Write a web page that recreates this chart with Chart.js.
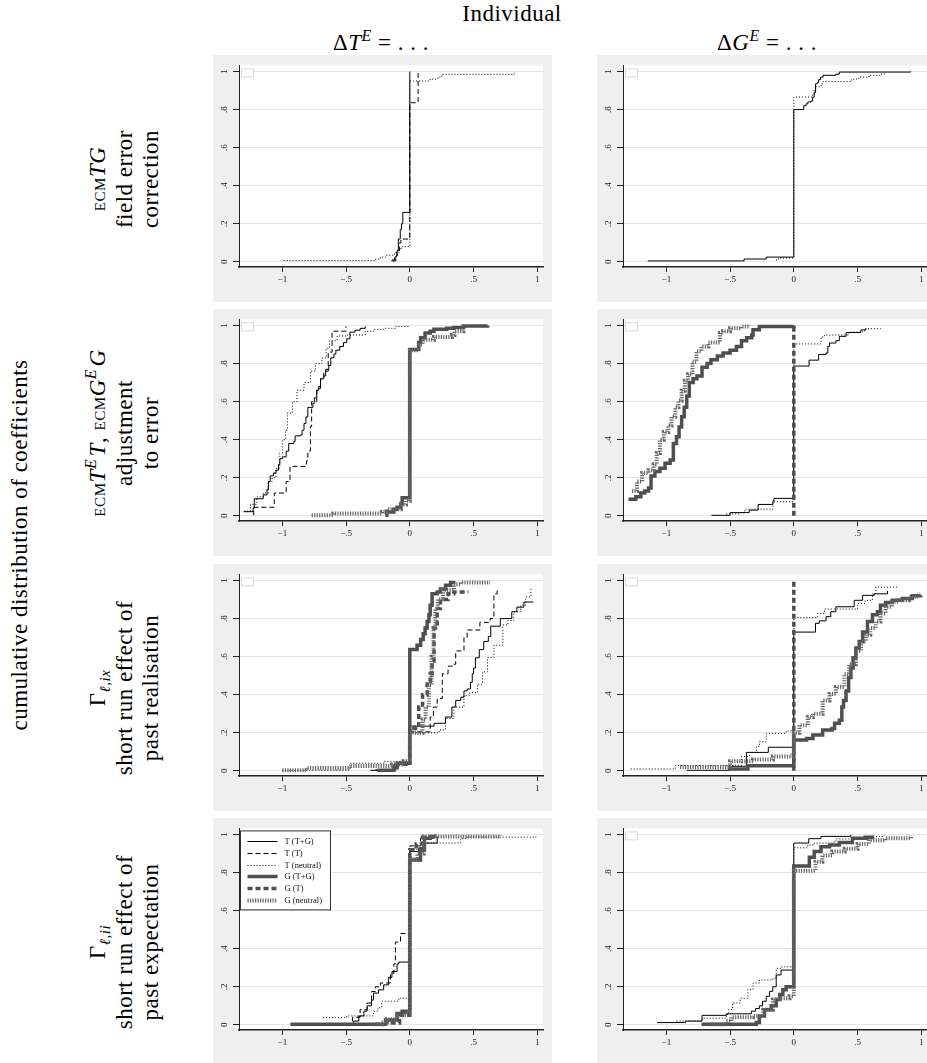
<!DOCTYPE html>
<html><head><meta charset="utf-8">
<script src="https://cdn.jsdelivr.net/npm/chart.js@4.4.1/dist/chart.umd.min.js"></script>
<style>
html,body{margin:0;padding:0;background:#fff;}
body{width:927px;height:1063px;overflow:hidden;position:relative;font-family:"Liberation Serif","Times New Roman","DejaVu Serif",serif;color:#000;}
.panel{position:absolute;width:339px;height:247px;background:#efefef;}
.panel canvas{display:block;}
.txt{position:absolute;white-space:nowrap;font-size:23px;line-height:1;letter-spacing:0.5px;transform:translate(-50%,-50%);}
.rot{position:absolute;white-space:nowrap;font-size:23px;letter-spacing:0.5px;transform:translate(-50%,-50%) rotate(-90deg);text-align:center;}
.rot div{line-height:26.5px;height:26.5px;}
.sc{font-size:15px;letter-spacing:0.6px;}
sup{font-size:16px;vertical-align:0;position:relative;top:-9px;line-height:0;}
sub{font-size:15px;vertical-align:0;position:relative;top:5px;line-height:0;}
</style></head>
<body>
<div class="txt" style="left:512px;top:13px">Individual</div>
<div class="txt" style="left:381px;top:42px">Δ<i>T</i><sup><i>E</i></sup> = . . .</div>
<div class="txt" style="left:767px;top:42px">Δ<i>G</i><sup><i>E</i></sup> = . . .</div>
<div class="rot" style="left:20px;top:545px">cumulative distribution of coefficients</div>
<div class="rot" style="left:124.5px;top:178.5px"><div><span class="sc">ECM</span><i>TG</i></div><div>field error</div><div>correction</div></div>
<div class="rot" style="left:124.5px;top:432.5px"><div><span class="sc">ECM</span><i>T</i><sup><i>E</i></sup>&#8202;<i>T</i>, <span class="sc">ECM</span><i>G</i><sup><i>E</i></sup>&#8202;<i>G</i></div><div>adjustment</div><div>to error</div></div>
<div class="rot" style="left:124.5px;top:687.5px"><div>Γ<sub><i>ℓ,ix</i></sub></div><div>short run effect of</div><div>past realisation</div></div>
<div class="rot" style="left:124.5px;top:941.5px"><div>Γ<sub><i>ℓ,ii</i></sub></div><div>short run effect of</div><div>past expectation</div></div>
<div id="panels"></div>
<script>
// ---- labels and ticks ----
const seriesLabels = ['T (T+G)','T (T)','T (neutral)','G (T+G)','G (T)','G (neutral)'];
const xTicks = [-1,-0.5,0,0.5,1];
const yTicks = [0,0.2,0.4,0.6,0.8,1];

// ---- row 1: ECM TG ----
const p11_TTG = [[-0.145,0.005],[-0.11,0.03],[-0.1,0.06],[-0.09,0.12],[-0.075,0.17],[-0.065,0.2],[-0.055,0.26],[0,1]];
const p11_TT  = [[-0.14,0.01],[-0.12,0.03],[-0.1,0.06],[-0.08,0.1],[-0.07,0.12],[0,0.836],[0.065,1]];
const p11_TN  = [[-0.99,0.007],[-0.28,0.014],[-0.23,0.025],[-0.18,0.035],[-0.12,0.05],[-0.08,0.07],[-0.06,0.08],[0,0.95],[0.16,0.96],[0.22,0.97],[0.25,0.985],[0.82,0.99]];
const p12_TTG = [[-1.146,0.005],[-0.39,0.015],[-0.216,0.025],[0,0.8],[0.078,0.82],[0.096,0.83],[0.11,0.84],[0.135,0.845],[0.148,0.865],[0.16,0.89],[0.17,0.935],[0.185,0.943],[0.195,0.957],[0.21,0.97],[0.23,0.98],[0.33,0.986],[0.357,0.997],[0.917,1]];
const p12_TN  = [[-0.14,0.01],[-0.12,0.02],[0,0.866],[0.148,0.88],[0.16,0.905],[0.175,0.92],[0.214,0.935],[0.227,0.947],[0.45,0.955],[0.47,0.96],[0.51,0.97],[0.59,0.98],[0.68,0.986],[0.71,0.995]];

// ---- row 2: adjustment to error ----
const p21_TTG = [[-1.304,0.022],[-1.23,0.04],[-1.22,0.09],[-1.15,0.11],[-1.12,0.14],[-1.11,0.18],[-1.095,0.21],[-1.07,0.225],[-1.05,0.24],[-1.03,0.27],[-1.02,0.3],[-1.0,0.31],[-0.97,0.34],[-0.95,0.38],[-0.91,0.39],[-0.9,0.42],[-0.86,0.425],[-0.845,0.45],[-0.83,0.485],[-0.815,0.52],[-0.8,0.57],[-0.76,0.59],[-0.75,0.62],[-0.73,0.66],[-0.715,0.68],[-0.7,0.72],[-0.675,0.735],[-0.66,0.77],[-0.635,0.79],[-0.62,0.83],[-0.595,0.85],[-0.58,0.87],[-0.55,0.89],[-0.52,0.91],[-0.495,0.93],[-0.47,0.965],[-0.43,0.975],[-0.39,0.985],[-0.35,0.995]];
const p21_TT  = [[-1.23,0.005],[-1.225,0.045],[-1.063,0.12],[-0.97,0.18],[-0.94,0.26],[-0.81,0.29],[-0.8,0.34],[-0.78,0.47],[-0.77,0.6],[-0.73,0.67],[-0.7,0.72],[-0.675,0.76],[-0.64,0.86],[-0.61,0.97],[-0.5,0.995]];
const p21_TN  = [[-1.3,0.025],[-1.25,0.06],[-1.2,0.1],[-1.15,0.12],[-1.11,0.18],[-1.08,0.2],[-1.05,0.25],[-1.02,0.33],[-1.0,0.4],[-0.975,0.45],[-0.96,0.54],[-0.92,0.6],[-0.885,0.66],[-0.83,0.7],[-0.78,0.76],[-0.74,0.8],[-0.69,0.83],[-0.655,0.88],[-0.63,0.92],[-0.57,0.945],[-0.5,0.95],[-0.35,0.97],[-0.28,0.98],[-0.19,0.985],[-0.11,0.995],[0,0.998]];
const p21_GTG = [[-0.19,0.003],[-0.18,0.02],[-0.125,0.035],[-0.1,0.045],[-0.07,0.065],[-0.06,0.095],[0,0.874],[0.07,0.91],[0.085,0.935],[0.12,0.96],[0.16,0.97],[0.19,0.98],[0.29,0.985],[0.345,0.99],[0.42,0.997],[0.61,1]];
const p21_GN  = [[-0.77,0.003],[-0.6,0.012],[-0.22,0.02],[-0.18,0.035],[-0.07,0.06],[-0.03,0.08],[0,0.87],[0.07,0.9],[0.1,0.925],[0.19,0.94],[0.33,0.95],[0.35,0.97],[0.42,0.995]];
const p22_TTG = [[-0.646,0.003],[-0.5,0.017],[-0.35,0.03],[-0.28,0.06],[-0.164,0.078],[-0.156,0.092],[0,0.787],[0.12,0.818],[0.195,0.848],[0.253,0.856],[0.267,0.89],[0.28,0.908],[0.33,0.92],[0.357,0.943],[0.41,0.963],[0.526,0.977],[0.565,0.986]];
const p22_TN  = [[-0.53,0.01],[-0.42,0.017],[-0.385,0.035],[-0.164,0.074],[0,0.903],[0.214,0.94],[0.24,0.95],[0.43,0.965],[0.54,0.972],[0.565,0.983],[0.68,0.985]];
const p22_GTG = [[-1.297,0.087],[-1.24,0.1],[-1.2,0.12],[-1.17,0.13],[-1.14,0.147],[-1.12,0.21],[-1.09,0.233],[-1.05,0.25],[-1.01,0.277],[-0.97,0.294],[-0.945,0.38],[-0.92,0.415],[-0.9,0.467],[-0.88,0.52],[-0.86,0.57],[-0.84,0.63],[-0.82,0.7],[-0.79,0.72],[-0.76,0.735],[-0.72,0.78],[-0.68,0.8],[-0.65,0.82],[-0.6,0.84],[-0.555,0.855],[-0.5,0.87],[-0.45,0.89],[-0.41,0.92],[-0.37,0.935],[-0.33,0.95],[-0.32,0.978],[-0.27,0.995],[0,1]];
const p22_GT  = [[0,0],[0,1]];
const p22_GN  = [[-1.27,0.13],[-1.23,0.18],[-1.19,0.225],[-1.14,0.24],[-1.1,0.27],[-1.075,0.33],[-1.05,0.4],[-1.02,0.44],[-0.985,0.475],[-0.96,0.52],[-0.93,0.57],[-0.905,0.605],[-0.88,0.657],[-0.855,0.71],[-0.83,0.744],[-0.795,0.81],[-0.763,0.865],[-0.724,0.89],[-0.67,0.91],[-0.58,0.96],[-0.555,0.97],[-0.5,0.985],[-0.41,0.995],[-0.35,1]];

// ---- row 3: past realisation ----
const p31_TTG = [[-0.31,0.003],[-0.125,0.033],[0,0.235],[0.19,0.25],[0.28,0.283],[0.33,0.335],[0.36,0.37],[0.4,0.387],[0.425,0.42],[0.45,0.43],[0.476,0.465],[0.49,0.51],[0.5,0.54],[0.515,0.594],[0.545,0.637],[0.58,0.68],[0.616,0.706],[0.635,0.76],[0.71,0.8],[0.8,0.836],[0.84,0.86],[0.895,0.887],[0.97,0.887]];
const p31_TT  = [[-0.27,0.005],[-0.1,0.03],[0,0.205],[0.16,0.283],[0.185,0.335],[0.215,0.38],[0.255,0.51],[0.3,0.55],[0.345,0.56],[0.36,0.63],[0.425,0.7],[0.45,0.74],[0.55,0.78],[0.63,0.8],[0.66,0.93],[0.685,0.96]];
const p31_TN  = [[-1.0,0.003],[-0.47,0.04],[-0.2,0.05],[0,0.2],[0.23,0.215],[0.28,0.275],[0.345,0.335],[0.425,0.395],[0.47,0.41],[0.53,0.455],[0.57,0.52],[0.61,0.595],[0.66,0.66],[0.73,0.767],[0.77,0.79],[0.815,0.836],[0.87,0.87],[0.91,0.914],[0.95,0.957]];
const p31_GTG = [[-0.255,0.003],[-0.125,0.016],[-0.1,0.04],[0,0.637],[0.057,0.66],[0.085,0.69],[0.105,0.72],[0.12,0.75],[0.136,0.785],[0.15,0.82],[0.16,0.87],[0.175,0.93],[0.215,0.94],[0.24,0.955],[0.28,0.975],[0.32,0.99],[0.345,0.997]];
const p31_GT  = [[-0.125,0.025],[-0.07,0.04],[0,0.223],[0.045,0.23],[0.07,0.335],[0.1,0.4],[0.136,0.47],[0.16,0.51],[0.175,0.577],[0.19,0.75],[0.215,0.853],[0.24,0.9],[0.3,0.93],[0.345,0.94],[0.46,0.94]];
const p31_GN  = [[-1.0,0.003],[-0.81,0.015],[-0.47,0.025],[-0.14,0.033],[-0.05,0.05],[0,0.2],[0.1,0.27],[0.124,0.335],[0.15,0.45],[0.17,0.6],[0.185,0.75],[0.2,0.85],[0.22,0.9],[0.26,0.95],[0.345,0.98],[0.4,0.99],[0.63,0.99]];
const p32_TTG = [[-0.84,0.003],[-0.5,0.024],[-0.372,0.097],[-0.2,0.124],[0,0.729],[0.17,0.775],[0.2,0.788],[0.253,0.81],[0.29,0.836],[0.33,0.862],[0.474,0.896],[0.54,0.922],[0.63,0.93],[0.735,0.945]];
const p32_TN  = [[-1.28,0.01],[-0.93,0.028],[-0.476,0.03],[-0.41,0.076],[-0.346,0.097],[-0.294,0.128],[-0.27,0.153],[-0.216,0.197],[-0.06,0.21],[0,0.805],[0.187,0.827],[0.24,0.85],[0.5,0.88],[0.56,0.896],[0.617,0.93],[0.643,0.965],[0.812,0.974]];
const p32_GTG = [[-0.515,0.01],[-0.36,0.027],[0,0.162],[0.1,0.17],[0.15,0.188],[0.226,0.214],[0.3,0.223],[0.32,0.25],[0.357,0.266],[0.377,0.335],[0.39,0.37],[0.41,0.42],[0.43,0.49],[0.448,0.54],[0.465,0.594],[0.487,0.646],[0.513,0.68],[0.54,0.73],[0.578,0.784],[0.617,0.82],[0.656,0.836],[0.68,0.87],[0.72,0.884],[0.773,0.896],[0.85,0.905],[0.93,0.92],[0.995,0.922]];
const p32_GT  = [[0,0],[0,1]];
const p32_GN  = [[-0.893,0.02],[-0.5,0.05],[-0.32,0.06],[-0.164,0.076],[-0.01,0.097],[0,0.2],[0.044,0.24],[0.11,0.283],[0.15,0.3],[0.226,0.37],[0.28,0.404],[0.33,0.44],[0.396,0.508],[0.435,0.56],[0.487,0.63],[0.526,0.68],[0.565,0.715],[0.6,0.75],[0.643,0.784],[0.68,0.827],[0.72,0.862],[0.77,0.89],[0.825,0.896],[0.904,0.915],[0.98,0.936]];

// ---- row 4: past expectation ----
const p41_TTG = [[-0.455,0.003],[-0.44,0.02],[-0.4,0.047],[-0.36,0.072],[-0.335,0.1],[-0.3,0.13],[-0.285,0.167],[-0.245,0.184],[-0.205,0.21],[-0.166,0.25],[-0.14,0.28],[-0.1,0.32],[-0.087,0.33],[0,0.91],[0.07,0.93],[0.11,0.955],[0.215,0.99]];
const p41_TT  = [[-0.49,0.003],[-0.45,0.04],[-0.39,0.08],[-0.335,0.115],[-0.3,0.175],[-0.27,0.2],[-0.23,0.22],[-0.152,0.27],[-0.125,0.32],[-0.113,0.435],[-0.073,0.48],[0,0.94],[0.084,0.98],[0.19,0.99]];
const p41_TN  = [[-0.68,0.038],[-0.495,0.047],[-0.285,0.072],[-0.25,0.09],[-0.22,0.124],[-0.087,0.14],[0,0.92],[0.11,0.955],[0.4,0.978],[0.45,0.986],[0.99,0.995]];
const p41_GTG = [[-0.937,0.003],[-0.19,0.026],[-0.1,0.06],[-0.06,0.072],[0,0.866],[0.084,0.92],[0.115,0.98],[0.16,0.99],[0.19,0.997]];
const p41_GT  = [[-0.15,0.01],[-0.08,0.05],[0,0.92],[0.05,0.95],[0.1,0.985],[0.2,1]];
const p41_GN  = [[-0.285,0.003],[-0.22,0.012],[-0.18,0.03],[-0.1,0.05],[-0.03,0.065],[0,0.87],[0.06,0.9],[0.11,0.99],[0.71,0.995]];
const p42_TTG = [[-1.073,0.012],[-0.85,0.02],[-0.72,0.05],[-0.53,0.058],[-0.333,0.072],[-0.3,0.086],[-0.27,0.1],[-0.245,0.124],[-0.216,0.15],[-0.19,0.176],[-0.165,0.2],[-0.138,0.262],[-0.1,0.288],[0,0.955],[0.117,0.978],[0.213,0.99],[0.447,0.998]];
const p42_TN  = [[-0.92,0.02],[-0.72,0.035],[-0.53,0.055],[-0.51,0.081],[-0.48,0.115],[-0.42,0.14],[-0.36,0.185],[-0.32,0.22],[-0.27,0.236],[-0.164,0.245],[-0.138,0.297],[-0.1,0.305],[0,0.93],[0.11,0.945],[0.16,0.955],[0.3,0.96],[0.33,0.977],[0.62,0.99],[0.71,0.995]];
const p42_GTG = [[-0.724,0.003],[-0.294,0.012],[-0.27,0.047],[-0.23,0.08],[-0.177,0.1],[-0.138,0.133],[-0.11,0.16],[-0.086,0.185],[-0.06,0.2],[0,0.834],[0.122,0.88],[0.16,0.91],[0.213,0.935],[0.28,0.945],[0.357,0.958],[0.46,0.98],[0.56,0.985],[0.617,0.995]];
const p42_GN  = [[-0.66,0.003],[-0.53,0.02],[-0.49,0.04],[-0.32,0.047],[-0.24,0.08],[-0.164,0.133],[-0.11,0.14],[-0.034,0.15],[0,0.81],[0.17,0.857],[0.224,0.89],[0.3,0.91],[0.4,0.925],[0.5,0.95],[0.59,0.97],[0.72,0.98],[0.92,0.995]];

// ---- styles & layout ----
const lineStyles = [
  {color:'#000000', width:1,   dash:[]},
  {color:'#000000', width:1,   dash:[5,3]},
  {color:'#000000', width:1,   dash:[1,2]},
  {color:'#4f4f4f', width:3.5, dash:[]},
  {color:'#4f4f4f', width:3.5, dash:[5,3]},
  {color:'#666666', width:4,   dash:[1.2,1.3]}
];
const ROW_TOPS = [55,309,564,818];
const COL_LEFTS = [213,597];
const panelDefs = [
  {r:0,c:0,series:[p11_TTG,p11_TT,p11_TN,null,null,null]},
  {r:0,c:1,series:[p12_TTG,null,p12_TN,null,null,null]},
  {r:1,c:0,series:[p21_TTG,p21_TT,p21_TN,p21_GTG,null,p21_GN]},
  {r:1,c:1,series:[p22_TTG,null,p22_TN,p22_GTG,p22_GT,p22_GN]},
  {r:2,c:0,series:[p31_TTG,p31_TT,p31_TN,p31_GTG,p31_GT,p31_GN]},
  {r:2,c:1,series:[p32_TTG,null,p32_TN,p32_GTG,p32_GT,p32_GN]},
  {r:3,c:0,series:[p41_TTG,p41_TT,p41_TN,p41_GTG,p41_GT,p41_GN],legend:true},
  {r:3,c:1,series:[p42_TTG,null,p42_TN,p42_GTG,null,p42_GN]}
];
const FONT_FAMILY = '"Liberation Serif", "Times New Roman", "DejaVu Serif", serif';

function fmt(v){
  const r = Math.round(v*10)/10;
  if (r === 0) return '0';
  const a = Math.abs(r);
  const s = (a === 1) ? '1' : String(a).replace(/^0/,'');
  return (r < 0 ? '\u2212' : '') + s;
}

const whiteArea = {id:'whiteArea', beforeDraw(chart){
  const {ctx, chartArea:a} = chart;
  ctx.save(); ctx.fillStyle='#ffffff';
  ctx.fillRect(a.left, a.top, a.right-a.left, a.bottom-a.top);
  ctx.restore();
}};

const boxLegend = {id:'boxLegend', afterDatasetsDraw(chart, args, opts){
  const ctx = chart.ctx, a = chart.chartArea;
  ctx.save();
  if (!opts.full){
    ctx.fillStyle='#fff'; ctx.strokeStyle='#dadada'; ctx.lineWidth=1;
    ctx.fillRect(a.left+2.5, a.top+3.5, 12, 8);
    ctx.strokeRect(a.left+2.5, a.top+3.5, 12, 8);
  } else {
    const bx=a.left+1.5, by=a.top+2.5, bw=90, bh=79;
    ctx.fillStyle='#fff'; ctx.fillRect(bx,by,bw,bh);
    ctx.strokeStyle='#333'; ctx.lineWidth=1; ctx.strokeRect(bx,by,bw,bh);
    const ds = chart.data.datasets.slice().sort((p,q)=>p.idx-q.idx);
    ds.forEach((d,k)=>{
      const y = Math.round(by+10+k*11.8)+0.5;
      ctx.beginPath(); ctx.setLineDash(d.borderDash); ctx.lineWidth=d.borderWidth; ctx.strokeStyle=d.borderColor;
      ctx.moveTo(bx+7,y); ctx.lineTo(bx+37,y); ctx.stroke();
      ctx.setLineDash([]); ctx.fillStyle='#111'; ctx.font='8.5px ' + FONT_FAMILY;
      ctx.textBaseline='middle'; ctx.textAlign='left';
      ctx.fillText(d.label, bx+44, y);
    });
  }
  ctx.restore();
}};

const tickFont = {family: FONT_FAMILY, size:9};
const host = document.getElementById('panels');
panelDefs.forEach(p=>{
  const div = document.createElement('div');
  div.className='panel';
  div.style.left = COL_LEFTS[p.c]+'px';
  div.style.top = ROW_TOPS[p.r]+'px';
  const cv = document.createElement('canvas');
  cv.width=339; cv.height=247;
  div.appendChild(cv); host.appendChild(div);
  const datasets = p.series.map((d,i)=> d ? {
    label: seriesLabels[i], data: d, idx: i,
    borderColor: lineStyles[i].color, borderWidth: lineStyles[i].width, borderDash: lineStyles[i].dash,
    stepped: true, pointRadius: 0, fill: false, tension: 0, order: 6-i
  } : null).filter(Boolean);
  new Chart(cv, {
    type:'line',
    data:{datasets},
    options:{
      responsive:false, animation:false, events:[], devicePixelRatio:1,
      layout:{padding:{left:0,right:9,top:8,bottom:0}},
      plugins:{legend:{display:false}, tooltip:{enabled:false}, boxLegend:{full:!!p.legend}},
      scales:{
        x:{type:'linear', min:-1.34, max:1.045,
          afterBuildTicks: ax=>{ ax.ticks = xTicks.map(v=>({value:v})); },
          afterFit: ax=>{ ax.height = 35; },
          grid:{drawOnChartArea:false, drawTicks:true, tickLength:5, tickColor:'#222', tickWidth:1},
          border:{display:true, color:'#222', width:1.5},
          ticks:{autoSkip:false, minRotation:0, maxRotation:0, padding:2, color:'#222', font:tickFont, callback:v=>fmt(v)}
        },
        y:{type:'linear', min:-0.027, max:1.032,
          afterBuildTicks: ax=>{ ax.ticks = yTicks.map(v=>({value:v})); },
          afterFit: ax=>{ ax.width = 26; },
          grid:{color:'#e6e6e6', lineWidth:1, drawTicks:true, tickLength:6, tickColor:'#222', tickWidth:1},
          border:{display:true, color:'#222', width:1},
          ticks:{autoSkip:false, minRotation:90, maxRotation:90, crossAlign:'center', padding:5, color:'#222', font:tickFont, callback:v=>fmt(v)}
        }
      }
    },
    plugins:[whiteArea, boxLegend]
  });
});
</script>
</body></html>
